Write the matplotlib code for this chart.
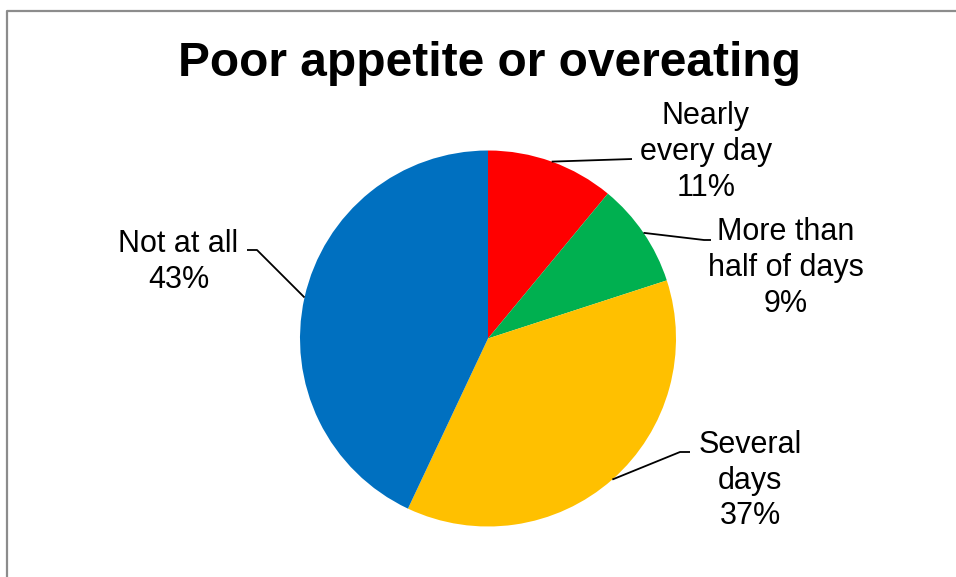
import matplotlib.pyplot as plt
import numpy as np

# Pie chart of answers to "Poor appetite or overeating"
categories = ["Nearly\nevery day", "More than\nhalf of days", "Several\ndays", "Not at all"]
shares = [11, 9, 37, 43]
colors = ["#FF0000", "#00B050", "#FFC000", "#0070C0"]

W, H = 956, 577

plt.rcParams["font.family"] = ["Liberation Sans", "DejaVu Sans"]

fig = plt.figure(figsize=(W / 100, H / 100), dpi=100)
ax = fig.add_axes([0, 0, 1, 1])

# pie centre and radius in pixels (y measured from top)
cx, cy, r = 488, 338.5, 188

wedges, _ = ax.pie(shares, colors=colors, startangle=90, counterclock=False,
                   center=(cx, H - cy), radius=r,
                   wedgeprops=dict(linewidth=0))

ax.set_xlim(0, W)
ax.set_ylim(0, H)
ax.set_aspect("equal")
ax.axis("off")

# label block centres and leader elbows, in pixels from top-left
label_pos = [(706, 152), (786, 268), (750, 480.5), (178.5, 262)]
elbows = [[(632, 159)],
          [(704, 240), (711, 240)],
          [(680, 452), (690, 452)],
          [(257, 250), (247, 250)]]

for w, name, val, (tx, ty), elb in zip(wedges, categories, shares, label_pos, elbows):
    mid = np.deg2rad((w.theta1 + w.theta2) / 2)
    ax_x = cx + r * np.cos(mid)
    ax_y = (H - cy) + r * np.sin(mid)
    xs = [ax_x] + [p[0] for p in elb]
    ys = [ax_y] + [H - p[1] for p in elb]
    ax.plot(xs, ys, color="black", lw=1.3, solid_capstyle="butt")
    ax.text(tx, H - ty, f"{name}\n{val}%", ha="center", va="center",
            multialignment="center", fontsize=22, linespacing=1.25)

ax.text(489, H - 76, "Poor appetite or overeating", ha="center", va="baseline",
        fontsize=34.5, fontweight="bold")

# chart frame (left and top edges)
ax.plot([7.5, 7.5, W + 5], [-5, H - 10.5, H - 10.5], color="#8C8C8C",
        lw=1.6, clip_on=False)

fig.savefig("out.png", dpi=100)
